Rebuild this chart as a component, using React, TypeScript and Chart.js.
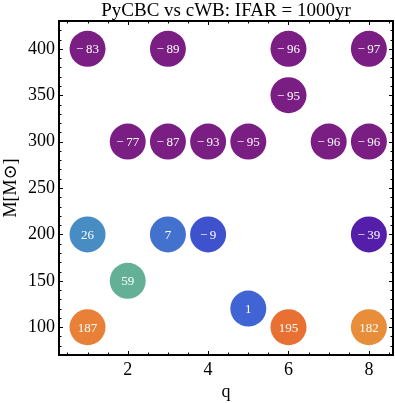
import React, { useEffect, useRef } from "react";
import { Chart, registerables } from "chart.js";

Chart.register(...registerables);

const TITLE = "PyCBC vs cWB: IFAR = 1000yr";
const X_LABEL = "q";
const Y_LABEL = "M[M⊙]";

const Q_VALUES = [1, 3, 6, 8, 6, 2, 3, 4, 5, 7, 8, 1, 3, 4, 8, 2, 5, 1, 6, 8];
const M_VALUES = [400, 400, 400, 400, 350, 300, 300, 300, 300, 300, 300, 200, 200, 200, 200, 150, 120, 100, 100, 100];
const DIFF_VALUES = [-83, -89, -96, -97, -95, -77, -87, -93, -95, -96, -96, 26, 7, -9, -39, 59, 1, 187, 195, 182];
const POINT_COLORS = [
  "rgb(122,30,132)", "rgb(122,30,132)", "rgb(122,30,132)", "rgb(122,30,132)",
  "rgb(122,30,132)",
  "rgb(122,30,132)", "rgb(122,30,132)", "rgb(122,30,132)", "rgb(122,30,132)", "rgb(122,30,132)", "rgb(122,30,132)",
  "rgb(72,140,196)", "rgb(66,114,206)", "rgb(62,82,206)", "rgb(84,30,170)",
  "rgb(100,176,150)",
  "rgb(64,100,212)",
  "rgb(232,128,56)", "rgb(232,112,50)", "rgb(232,142,58)",
];

const X_TICKS = [2, 4, 6, 8];
const Y_TICKS = [100, 150, 200, 250, 300, 350, 400];

const FONT = "'Liberation Serif', 'DejaVu Serif', serif";

const framePlugin = {
  id: "frameAndLabels",
  afterDatasetsDraw(chart: any) {
    const ctx = chart.ctx;
    const { left, right, top, bottom } = chart.chartArea;
    const xs = chart.scales.x;
    const ys = chart.scales.y;
    ctx.save();
    const meta = chart.getDatasetMeta(0);
    ctx.fillStyle = "#ffffff";
    ctx.font = `13px ${FONT}`;
    ctx.textAlign = "center";
    ctx.textBaseline = "middle";
    meta.data.forEach((el: any, i: number) => {
      const v = DIFF_VALUES[i];
      const txt = v < 0 ? "\u2212\u2009" + Math.abs(v) : String(v);
      ctx.fillText(txt, el.x, el.y + 1);
    });
    ctx.strokeStyle = "#000";
    ctx.lineWidth = 2;
    ctx.strokeRect(left, top, right - left, bottom - top);
    ctx.lineWidth = 1;
    ctx.beginPath();
    for (let v = 0.5; v <= 8.5; v += 0.5) {
      const px = Math.round(xs.getPixelForValue(v)) + 0.5;
      const len = X_TICKS.includes(v) ? 4 : 2.5;
      ctx.moveTo(px, bottom);
      ctx.lineTo(px, bottom - len);
      ctx.moveTo(px, top);
      ctx.lineTo(px, top + len);
    }
    for (let v = 80; v <= 420; v += 10) {
      const py = Math.round(ys.getPixelForValue(v)) + 0.5;
      const len = Y_TICKS.includes(v) ? 4 : 2.5;
      ctx.moveTo(left, py);
      ctx.lineTo(left + len, py);
      ctx.moveTo(right, py);
      ctx.lineTo(right - len, py);
    }
    ctx.stroke();
    ctx.restore();
  },
};

export default function App() {
  const ref = useRef<HTMLCanvasElement | null>(null);
  useEffect(() => {
    if (!ref.current) return;
    const chart = new Chart(ref.current, {
      type: "scatter",
      data: {
        datasets: [
          {
            data: Q_VALUES.map((q, i) => ({ x: q, y: M_VALUES[i] })),
            backgroundColor: POINT_COLORS,
            borderColor: POINT_COLORS,
            borderWidth: 0,
            pointRadius: 18,
            pointHoverRadius: 18,
          },
        ],
      },
      options: {
        responsive: false,
        animation: false,
        events: [],
        layout: { autoPadding: false, padding: { left: 0, right: 2, top: 0, bottom: 0 } },
        plugins: {
          legend: { display: false },
          tooltip: { enabled: false },
          title: {
            display: true,
            fullSize: false,
            text: TITLE,
            color: "#000",
            font: { family: FONT, size: 19, weight: "normal", lineHeight: 20 / 19 },
            padding: { top: 1, bottom: 0 },
          },
        },
        scales: {
          x: {
            type: "linear",
            min: 0.29,
            max: 8.6,
            grid: { display: false, drawTicks: false },
            border: { display: false },
            afterBuildTicks: (s: any) => {
              s.ticks = X_TICKS.map((v) => ({ value: v }));
            },
            afterFit: (s: any) => {
              s.height = 48;
            },
            ticks: {
              color: "#000",
              padding: 4,
              maxRotation: 0,
              font: { family: FONT, size: 18 },
            },
            title: {
              display: true,
              text: X_LABEL,
              color: "#000",
              font: { family: FONT, size: 18 },
              padding: { top: 0, bottom: 0 },
            },
          },
          y: {
            type: "linear",
            min: 70,
            max: 430,
            grid: { display: false, drawTicks: false },
            border: { display: false },
            afterBuildTicks: (s: any) => {
              s.ticks = Y_TICKS.map((v) => ({ value: v }));
            },
            afterFit: (s: any) => {
              s.width = 59;
            },
            ticks: {
              color: "#000",
              padding: 4,
              font: { family: FONT, size: 18 },
            },
            title: {
              display: true,
              text: Y_LABEL,
              color: "#000",
              font: { family: FONT, size: 18 },
              padding: { top: 0, bottom: 0 },
            },
          },
        },
      },
      plugins: [framePlugin],
    } as any);
    return () => chart.destroy();
  }, []);
  return (
    <div style={{ position: "fixed", left: 0, top: 0, width: 395, height: 403, background: "#fff" }}>
      <canvas ref={ref} width={395} height={403} style={{ width: 395, height: 403, display: "block" }} />
    </div>
  );
}
